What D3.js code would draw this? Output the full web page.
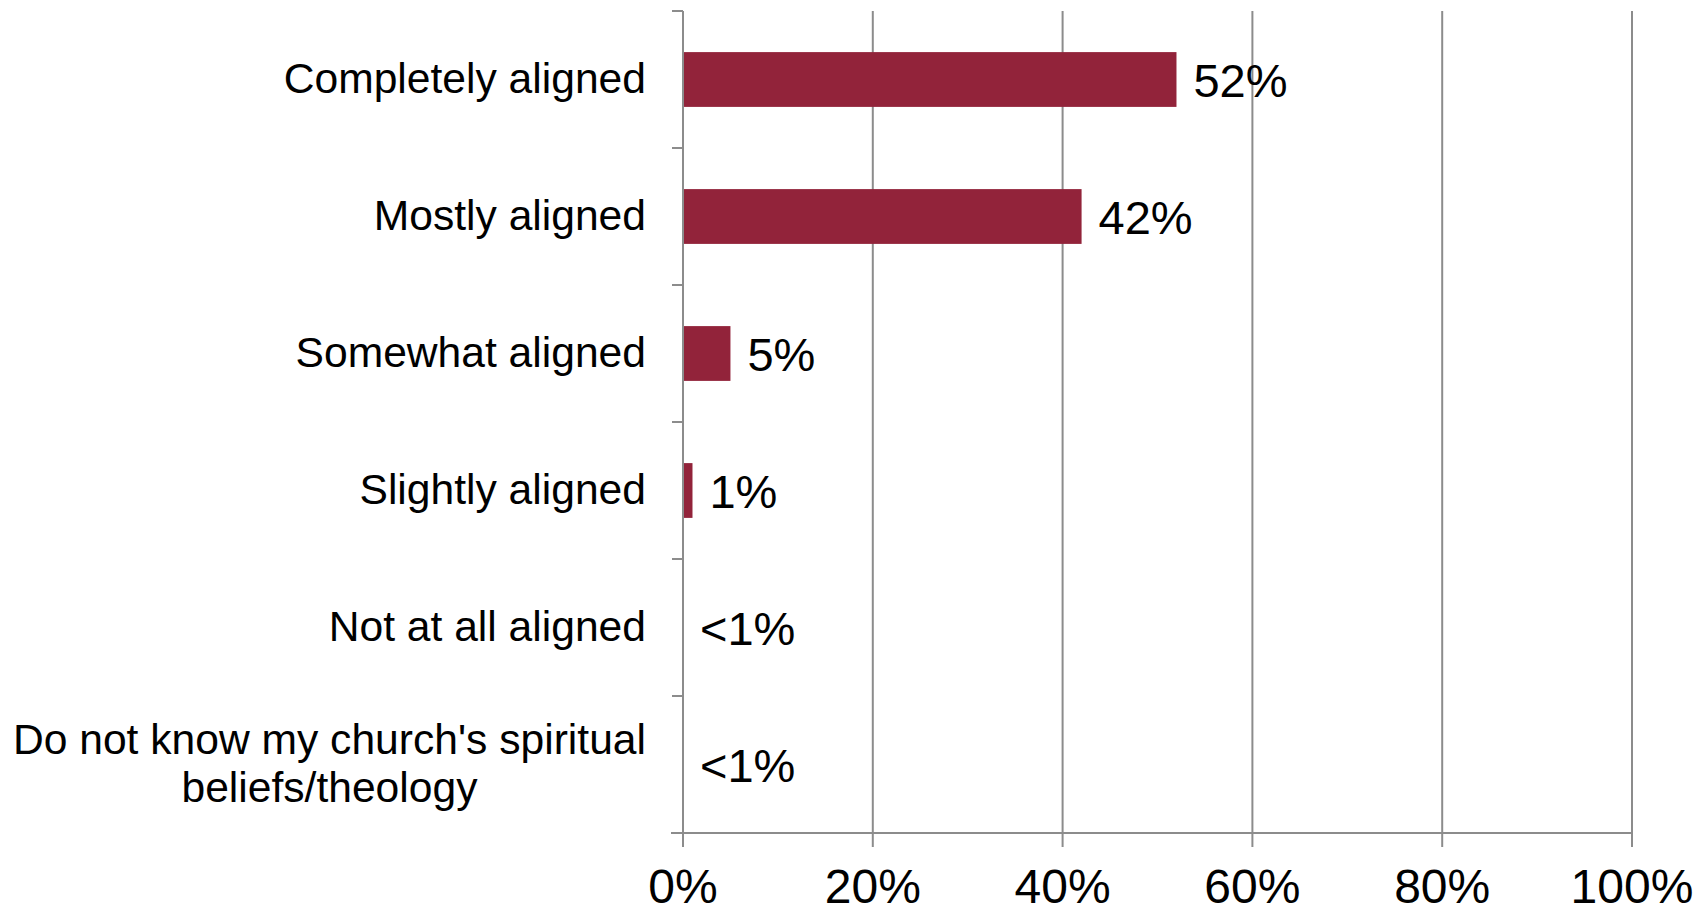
<!DOCTYPE html>
<html>
<head>
<meta charset="utf-8">
<script src="https://cdn.jsdelivr.net/npm/d3@7"></script>
<style>
    body { margin: 0; background: #fff; }
    #chart text { font-family: "Liberation Sans", Arial, sans-serif; fill: #000; }
</style>
</head>
<body>
<div id="chart"></div>
<script>
// data
let categories = [
    "Completely aligned",
    "Mostly aligned",
    "Somewhat aligned",
    "Slightly aligned",
    "Not at all aligned",
    "Do not know my church's spiritual beliefs/theology"
];
let values = [52, 42, 5, 1, 0, 0];
let valueLabels = ["52%", "42%", "5%", "1%", "<1%", "<1%"];
let tickValues = [0, 20, 40, 60, 80, 100];
// long label gets split in two lines
let wrappedLabels = {
    "Do not know my church's spiritual beliefs/theology": ["Do not know my church's spiritual", "beliefs/theology"]
};

class AlignmentChart {

    constructor(){
        this.width = 1700;
        this.height = 914;
        this.plot = {left: 683, right: 1632, top: 11, bottom: 833};

        this.svg = d3.select("#chart").append("svg")
            .attr("width", this.width)
            .attr("height", this.height);

        this.barColor = "#92233a";
        this.axisColor = "#8c8c8c";
    }

    update(){
        let xScale = d3.scaleLinear()
            .domain([0, 100])
            .range([this.plot.left, this.plot.right]);

        let yScale = d3.scaleBand()
            .domain(categories)
            .range([this.plot.top, this.plot.bottom])
            .paddingInner(0.6)
            .paddingOuter(0.3);

        let step = yScale.step();

        // vertical gridlines + the tick stubs under the axis
        let grid = this.svg.append("g").attr("class", "grid");
        grid.selectAll("line")
            .data(tickValues)
            .enter().append("line")
            .attr("x1", d => xScale(d))
            .attr("x2", d => xScale(d))
            .attr("y1", this.plot.top)
            .attr("y2", this.plot.bottom + 14)
            .attr("stroke", this.axisColor)
            .attr("stroke-width", 2);

        // bottom axis line
        this.svg.append("line")
            .attr("x1", this.plot.left - 12)
            .attr("x2", this.plot.right)
            .attr("y1", this.plot.bottom)
            .attr("y2", this.plot.bottom)
            .attr("stroke", this.axisColor)
            .attr("stroke-width", 2);

        // category tick marks on the left (band edges)
        let edges = d3.range(categories.length + 1).map(i => this.plot.top + i * step);
        this.svg.append("g")
            .selectAll("line")
            .data(edges)
            .enter().append("line")
            .attr("x1", this.plot.left - 11)
            .attr("x2", this.plot.left)
            .attr("y1", d => d)
            .attr("y2", d => d)
            .attr("stroke", this.axisColor)
            .attr("stroke-width", 2);

        // bars
        let rows = categories.map((c, i) => ({cat: c, value: values[i], label: valueLabels[i]}));
        this.svg.append("g")
            .attr("class", "bars")
            .selectAll("rect")
            .data(rows)
            .enter().append("rect")
            .attr("x", xScale(0))
            .attr("y", d => yScale(d.cat))
            .attr("width", d => xScale(d.value) - xScale(0))
            .attr("height", yScale.bandwidth())
            .attr("fill", this.barColor);

        // left axis line on top of bars
        this.svg.append("line")
            .attr("x1", this.plot.left)
            .attr("x2", this.plot.left)
            .attr("y1", this.plot.top)
            .attr("y2", this.plot.bottom + 14)
            .attr("stroke", this.axisColor)
            .attr("stroke-width", 2);

        // value labels
        this.svg.append("g")
            .selectAll("text")
            .data(rows)
            .enter().append("text")
            .attr("x", d => xScale(d.value) + 17)
            .attr("y", d => yScale(d.cat) + yScale.bandwidth() / 2 + 17)
            .attr("font-size", 47)
            .text(d => d.label);

        // x tick labels
        this.svg.append("g")
            .selectAll("text")
            .data(tickValues)
            .enter().append("text")
            .attr("x", d => xScale(d))
            .attr("y", 903)
            .attr("text-anchor", "middle")
            .attr("font-size", 48)
            .text(d => d + "%");

        // category labels
        let labelRight = 646;
        let catSize = 42.6;
        let catG = this.svg.append("g");
        categories.forEach(c => {
            let cy = yScale(c) + yScale.bandwidth() / 2;
            let lines = wrappedLabels[c];
            if (!lines) {
                catG.append("text")
                    .attr("x", labelRight)
                    .attr("y", cy + 13)
                    .attr("text-anchor", "end")
                    .attr("font-size", catSize)
                    .text(c);
            } else {
                // lines are centred on each other, block is right aligned
                let t = catG.append("text")
                    .attr("font-size", catSize)
                    .attr("text-anchor", "middle");
                let tmp = catG.append("text").attr("font-size", catSize).text(lines[0]);
                let w = tmp.node().getComputedTextLength();
                tmp.remove();
                let lineH = 48;
                lines.forEach((ln, i) => {
                    t.append("tspan")
                        .attr("x", labelRight - w / 2)
                        .attr("y", cy + 13 + (i - (lines.length - 1) / 2) * lineH)
                        .text(ln);
                });
            }
        });
    }
}

let chart = new AlignmentChart();
chart.update();
</script>
</body>
</html>
